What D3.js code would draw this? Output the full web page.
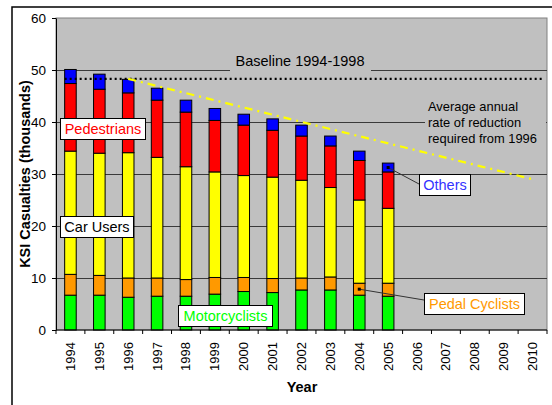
<!DOCTYPE html>
<html>
<head>
<meta charset="utf-8">
<script src="https://cdn.jsdelivr.net/npm/d3@7"></script>
<style>
  html, body { margin: 0; padding: 0; background: #fff; }
  svg { display: block; font-family: "Liberation Sans", Arial, sans-serif; }
</style>
</head>
<body>
<svg id="chart" width="552" height="405"></svg>
<script>
// Killed or seriously injured casualties (thousands) by road user group
const years = d3.range(1994, 2011);
const dataYears = [1994, 1995, 1996, 1997, 1998, 1999, 2000, 2001, 2002, 2003, 2004, 2005];
const motorcyclists = [6.7, 6.7, 6.3, 6.5, 6.5, 6.9, 7.4, 7.2, 7.7, 7.7, 6.7, 6.5];
const pedalCyclists = [4.0, 3.8, 3.7, 3.5, 3.2, 3.2, 2.7, 2.7, 2.3, 2.5, 2.3, 2.5];
const carUsers      = [23.7, 23.5, 24.1, 23.2, 21.7, 20.3, 19.6, 19.5, 18.8, 17.2, 16.0, 14.4];
const pedestrians   = [13.0, 12.3, 11.5, 11.0, 10.5, 9.9, 9.7, 9.0, 8.5, 8.0, 7.6, 7.0];
const others        = [2.7, 2.9, 2.6, 2.3, 2.3, 2.3, 2.1, 2.2, 2.1, 1.9, 1.8, 1.7];
const seriesNames = ["Motorcyclists", "Pedal Cyclists", "Car Users", "Pedestrians", "Others"];
const seriesColors = ["#00FF00", "#FF9900", "#FFFF00", "#FF0000", "#0000FF"];
const yTicks = [0, 10, 20, 30, 40, 50, 60];

// Baseline average and target path
const baselineValue = 48.3;
const targetYears = [1996, 2010];
const targetValues = [48.3, 29.0];

const svg = d3.select("#chart");
const plot = { left: 56, right: 547, top: 18, bottom: 330 };

const x = d3.scaleBand().domain(years).range([plot.left, plot.right]).padding(0);
const y = d3.scaleLinear().domain([0, 60]).range([plot.bottom, plot.top]);
const bw = x.bandwidth();
const barW = bw / 2.5;
const cx = yr => x(yr) + bw / 2;

// outer frame
svg.append("rect").attr("x", 12).attr("y", 7).attr("width", 620).attr("height", 500)
  .attr("fill", "#fff").attr("stroke", "#000").attr("stroke-width", 1.5);

// plot area
svg.append("rect").attr("x", plot.left).attr("y", plot.top)
  .attr("width", plot.right - plot.left).attr("height", plot.bottom - plot.top)
  .attr("fill", "#C0C0C0").attr("stroke", "#808080").attr("stroke-width", 1);

// gridlines
svg.append("g").selectAll("line").data(yTicks.filter(t => t > 0 && t < 60)).join("line")
  .attr("x1", plot.left).attr("x2", plot.right)
  .attr("y1", d => y(d) + 0.5).attr("y2", d => y(d) + 0.5)
  .attr("stroke", "#3a3a3a").attr("stroke-width", 1);

// stacked bars
const rows = dataYears.map((yr, i) => ({
  year: yr,
  "Motorcyclists": motorcyclists[i],
  "Pedal Cyclists": pedalCyclists[i],
  "Car Users": carUsers[i],
  "Pedestrians": pedestrians[i],
  "Others": others[i]
}));
const stacked = d3.stack().keys(seriesNames)(rows);
svg.append("g").selectAll("g").data(stacked).join("g")
  .attr("fill", (d, i) => seriesColors[i])
  .selectAll("rect").data(d => d).join("rect")
  .attr("x", d => cx(d.data.year) - barW / 2)
  .attr("width", barW)
  .attr("y", d => y(d[1]))
  .attr("height", d => y(d[0]) - y(d[1]))
  .attr("stroke", "#000").attr("stroke-width", 1);

// baseline (dotted)
svg.append("line")
  .attr("x1", cx(1994) - barW / 2).attr("x2", plot.right - 5)
  .attr("y1", y(baselineValue)).attr("y2", y(baselineValue))
  .attr("stroke", "#000").attr("stroke-width", 2.2).attr("stroke-dasharray", "2,3");

// target line (dash-dot yellow)
svg.append("path")
  .datum(targetYears.map((yr, i) => [yr, targetValues[i]]))
  .attr("d", d3.line().x(d => cx(d[0])).y(d => y(d[1])))
  .attr("fill", "none").attr("stroke", "#FFFF00").attr("stroke-width", 2.2)
  .attr("stroke-dasharray", "8,5,2,5");

// label for the baseline, on a plot-coloured patch
const baseLab = svg.append("g");
baseLab.append("rect").attr("x", 230).attr("y", y(50) - 18).attr("width", 141).attr("height", 21)
  .attr("fill", "#C0C0C0");
baseLab.append("text").attr("x", 300).attr("y", y(50) - 4).attr("text-anchor", "middle")
  .attr("font-size", 14.5).attr("fill", "#000").text("Baseline 1994-1998");

// label for the target line
const tgtLab = svg.append("g");
tgtLab.append("rect").attr("x", 425).attr("y", y(40) - 26).attr("width", 121).attr("height", 48)
  .attr("fill", "#C0C0C0");
tgtLab.append("text").attr("font-size", 12.9).attr("fill", "#000")
  .selectAll("tspan").data(["Average annual", "rate of reduction", "required from 1996"]).join("tspan")
  .attr("x", 428).attr("y", (d, i) => y(40) - 11 + i * 15.8).text(d => d);

// axes
const yAxis = d3.axisLeft(y).tickValues(yTicks).tickSize(4).tickSizeOuter(0).tickPadding(6);
const gy = svg.append("g").attr("transform", `translate(${plot.left},0)`).call(yAxis);
gy.select(".domain").attr("stroke", "#000");
gy.selectAll(".tick line").attr("stroke", "#000");
gy.selectAll(".tick text").attr("font-size", 13.5).attr("fill", "#000")
  .attr("font-family", "'Liberation Sans', Arial, sans-serif");

const gx = svg.append("g");
gx.append("line").attr("x1", plot.left).attr("x2", plot.right)
  .attr("y1", plot.bottom).attr("y2", plot.bottom).attr("stroke", "#000").attr("stroke-width", 1.2);
gx.selectAll("line.tk").data(years.concat([null])).join("line").attr("class", "tk")
  .attr("x1", d => d === null ? plot.right : x(d)).attr("x2", d => d === null ? plot.right : x(d))
  .attr("y1", plot.bottom).attr("y2", plot.bottom + 4).attr("stroke", "#000");
gx.selectAll("text").data(years).join("text")
  .attr("transform", d => `translate(${cx(d) + 4.5},${plot.bottom + 12}) rotate(-90)`)
  .attr("text-anchor", "end").attr("font-size", 13).attr("fill", "#000").text(d => d);

// axis titles
svg.append("text").attr("transform", "translate(30,174) rotate(-90)")
  .attr("text-anchor", "middle").attr("font-size", 14.5).attr("font-weight", "bold").text("KSI Casualties (thousands)");
svg.append("text").attr("x", 302).attr("y", 392).attr("text-anchor", "middle")
  .attr("font-size", 14.5).attr("font-weight", "bold").text("Year");

// series labels in boxes
function boxLabel(text, color, left, top, w) {
  const g = svg.append("g");
  g.append("rect").attr("x", left + 0.5).attr("y", top + 0.5).attr("width", w).attr("height", 21)
    .attr("fill", "#fff").attr("stroke", "#000").attr("stroke-width", 1);
  g.append("text").attr("x", left + w / 2 + 0.5).attr("y", top + 16).attr("text-anchor", "middle")
    .attr("font-size", 14.5).attr("fill", color).text(text);
  return g;
}
function leader(x1, y1, x2, y2) {
  svg.append("line").attr("x1", x1).attr("y1", y1).attr("x2", x2).attr("y2", y2)
    .attr("stroke", "#333").attr("stroke-width", 1);
  svg.append("rect").attr("x", x1 - 1.5).attr("y", y1 - 1.5).attr("width", 3).attr("height", 3).attr("fill", "#000");
}

const i05 = dataYears.indexOf(2005), i04 = dataYears.indexOf(2004);
const othersMid = (stacked[4][i05][0] + stacked[4][i05][1]) / 2;
const pedalMid = (stacked[1][i04][0] + stacked[1][i04][1]) / 2;
leader(cx(2005), y(othersMid), 419, 184);
leader(cx(2004), y(pedalMid), 424, 300);

boxLabel("Pedestrians", "#FF0000", x(1994) + 4, 118, 85);
boxLabel("Car Users", "#000000", x(1994) + 4, 216, 73);
boxLabel("Motorcyclists", "#00FF00", 178, 305, 94);
boxLabel("Others", "#3333FF", 419, 174, 51);
boxLabel("Pedal Cyclists", "#FF9900", 424, 293, 100);
</script>
</body>
</html>
